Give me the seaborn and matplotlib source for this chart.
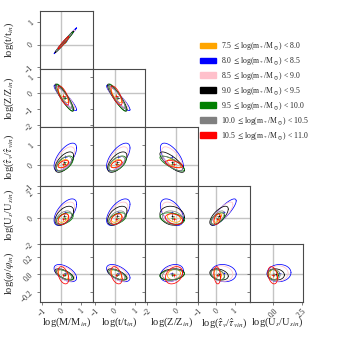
import numpy as np
import pandas as pd
import matplotlib
matplotlib.use("Agg")
import matplotlib.pyplot as plt
from matplotlib.patches import Patch
import seaborn as sns

# ---------------- data ----------------
bin_labels = [
    r"7.5 $\leq$log(m$_*$/M$_\odot$) < 8.0",
    r"8.0 $\leq$log(m$_*$/M$_\odot$) < 8.5",
    r"8.5 $\leq$log(m$_*$/M$_\odot$) < 9.0",
    r"9.0 $\leq$log(m$_*$/M$_\odot$) < 9.5",
    r"9.5 $\leq$log(m$_*$/M$_\odot$) < 10.0",
    r"10.0 $\leq$log(m$_*$/M$_\odot$) < 10.5",
    r"10.5 $\leq$log(m$_*$/M$_\odot$) < 11.0",
]
bin_colors = ["orange", "blue", "pink", "black", "green", "gray", "red"]

# variables: M, t, Z, tau, U, phi
var_labels = [
    r"log(M/M$_{in}$)",
    r"log(t/t$_{in}$)",
    r"log(Z/Z$_{in}$)",
    r"log($\hat{\tau}_v$/$\hat{\tau}_{vin}$)",
    r"log(U$_s$/U$_{sin}$)",
    r"log($\varphi$/$\varphi_{in}$)",
]
var_limits = [(-1.1, 1.6), (-1.1, 1.5), (-2.15, 1.5), (-1.0, 1.85), (-2.0, 2.6), (-0.32, 0.355)]
x_ticks = [[-1, 0, 1], [-1, 0, 1], [-2, 0], [-1, 0, 1], [0.0, 2.5]]
x_tick_labels = [["\u22121", "0", "1"], ["\u22121", "0", "1"], ["\u22122", "0"],
                 ["\u22121", "0", "1"], ["0.0", "2.5"]]
y_ticks = [[-1, 0, 1], [-2, -1, 0, 1], [-1, 0, 1], [-2, 0, 2], [-0.2, 0.0, 0.2]]
y_tick_labels = [["\u22121", "0", "1"], ["\u22122", "\u22121", "0", "1"], ["\u22121", "0", "1"],
                 ["\u22122", "0", "2"], ["\u22120.2", "0.0", "0.2"]]

# per-bin centre and half-extent of the contour (M, t, Z, tau, U, phi)
mean_orange = [0.10, 0.08, -0.15, 0.08, 0.05, 0.000]
sd_orange   = [0.25, 0.25, 0.45, 0.20, 0.35, 0.060]
mean_blue   = [0.20, 0.17, -0.30, 0.40, 0.50, 0.015]
sd_blue     = [0.58, 0.58, 0.80, 0.68, 1.05, 0.100]
mean_pink   = [0.18, 0.15, -0.28, 0.32, 0.40, 0.010]
sd_pink     = [0.50, 0.50, 0.72, 0.58, 0.90, 0.090]
mean_black  = [0.15, 0.12, -0.28, 0.15, 0.22, 0.000]
sd_black    = [0.48, 0.48, 0.85, 0.50, 0.75, 0.065]
mean_green  = [0.17, 0.13, -0.28, 0.08, 0.00, -0.005]
sd_green    = [0.43, 0.43, 0.85, 0.37, 0.45, 0.060]
mean_gray   = [0.12, 0.10, -0.25, 0.08, 0.05, 0.000]
sd_gray     = [0.40, 0.40, 0.70, 0.35, 0.55, 0.060]
mean_red    = [0.10, 0.08, -0.15, 0.05, -0.05, -0.010]
sd_red      = [0.28, 0.28, 0.60, 0.18, 0.42, 0.100]

# correlations, pairs in order (t,M) (Z,M) (Z,t) (tau,M) (tau,t) (tau,Z)
# (U,M) (U,t) (U,Z) (U,tau) (phi,M) (phi,t) (phi,Z) (phi,tau) (phi,U)
rho_orange = [0.98, -0.80, -0.80, 0.50, 0.50, -0.60, 0.40, 0.40, -0.30, 0.60, -0.40, -0.40, 0.20, -0.20, 0.00]
rho_blue   = [0.995, -0.93, -0.93, 0.65, 0.65, -0.65, 0.60, 0.60, -0.50, 0.85, -0.55, -0.55, 0.30, -0.10, 0.05]
rho_pink   = [0.99, -0.90, -0.90, 0.60, 0.60, -0.65, 0.55, 0.55, -0.45, 0.80, -0.50, -0.50, 0.25, -0.10, 0.05]
rho_black  = [0.99, -0.90, -0.90, 0.60, 0.60, -0.80, 0.50, 0.50, -0.15, 0.70, -0.65, -0.65, 0.20, -0.30, -0.10]
rho_green  = [0.99, -0.90, -0.90, 0.55, 0.55, -0.80, 0.45, 0.45, -0.30, 0.55, -0.65, -0.65, 0.20, -0.30, -0.10]
rho_gray   = [0.99, -0.88, -0.88, 0.50, 0.50, -0.75, 0.45, 0.45, -0.20, 0.65, -0.60, -0.60, 0.20, -0.30, -0.10]
rho_red    = [0.97, -0.70, -0.70, 0.50, 0.50, -0.55, 0.40, 0.40, -0.30, 0.40, -0.40, -0.40, 0.30, -0.20, -0.30]

means = [mean_orange, mean_blue, mean_pink, mean_black, mean_green, mean_gray, mean_red]
sds = [sd_orange, sd_blue, sd_pink, sd_black, sd_green, sd_gray, sd_red]
rhos = [rho_orange, rho_blue, rho_pink, rho_black, rho_green, rho_gray, rho_red]

# ---------------- style ----------------
sns.set_theme(style="ticks")
plt.rcParams["font.family"] = ["Liberation Serif", "DejaVu Serif"]
plt.rcParams["mathtext.fontset"] = "stix"
plt.rcParams["axes.unicode_minus"] = True

fig = plt.figure(figsize=(3.39, 3.39), dpi=100)
W, H = 339.0, 339.0
left, right, top, bottom = 40 / W, 303 / W, 1 - 11 / H, 1 - 302 / H
n = 5
cw = (right - left) / n
rh = (top - bottom) / n

frame_col = "#4a4a4a"
zero_col = "#c4c4c4"
theta = np.linspace(0, 2 * np.pi, 160)

pair_index = 0
for r in range(n):
    yi = r + 1
    for c in range(r + 1):
        xi = c
        ax = fig.add_axes([left + c * cw, top - (r + 1) * rh, cw, rh])
        ax.axvline(0, color=zero_col, lw=1.0, zorder=0)
        ax.axhline(0, color=zero_col, lw=1.0, zorder=0)
        k = pair_index + c
        rows = []
        for b in range(len(bin_labels)):
            mx, my = means[b][xi], means[b][yi]
            sx, sy = sds[b][xi], sds[b][yi]
            rho = rhos[b][k]
            xs = mx + sx * np.cos(theta)
            ys = my + sy * (rho * np.cos(theta) + np.sqrt(1 - rho ** 2) * np.sin(theta))
            rows.append(pd.DataFrame({"x": xs, "y": ys, "bin": bin_labels[b]}))
        df = pd.concat(rows, ignore_index=True)
        sns.lineplot(data=df, x="x", y="y", hue="bin", hue_order=bin_labels,
                     palette=bin_colors, sort=False, estimator=None,
                     legend=False, lw=0.55, ax=ax)
        cen = pd.DataFrame({"x": [m[xi] for m in means], "y": [m[yi] for m in means],
                            "bin": bin_labels})
        sns.scatterplot(data=cen, x="x", y="y", hue="bin", hue_order=bin_labels,
                        palette=bin_colors, marker="+", s=5, linewidth=0.4,
                        legend=False, ax=ax)
        ax.set_xlim(var_limits[xi])
        ax.set_ylim(var_limits[yi])
        for sp in ax.spines.values():
            sp.set_color(frame_col)
            sp.set_linewidth(0.8)
        ax.tick_params(length=2.5, width=0.5, color=frame_col, labelsize=5.5, pad=1)
        ax.set_xticks(x_ticks[xi])
        ax.set_yticks(y_ticks[r])
        if r == n - 1:
            ax.set_xticklabels(x_tick_labels[xi], rotation=45)
            ax.set_xlabel(var_labels[xi], fontsize=7.5)
            ax.xaxis.set_label_coords(0.5, -0.24)
        else:
            ax.set_xticklabels([])
            ax.set_xlabel("")
        if c == 0:
            ax.set_yticklabels(y_tick_labels[r], rotation=45)
            ax.set_ylabel(var_labels[yi], fontsize=7.5)
            ax.yaxis.set_label_coords(-0.46, 0.5)
        else:
            ax.set_yticklabels([])
            ax.set_ylabel("")
    pair_index += r + 1

handles = [Patch(facecolor=col, edgecolor=col) for col in bin_colors]
fig.legend(handles, bin_labels, loc="upper left", bbox_to_anchor=(197 / W, 1 - 37 / H),
           frameon=False, fontsize=5.6, handlelength=2.0, handleheight=0.75,
           labelspacing=0.38, handletextpad=0.7, borderaxespad=0)

fig.savefig("out.png", dpi=100)
